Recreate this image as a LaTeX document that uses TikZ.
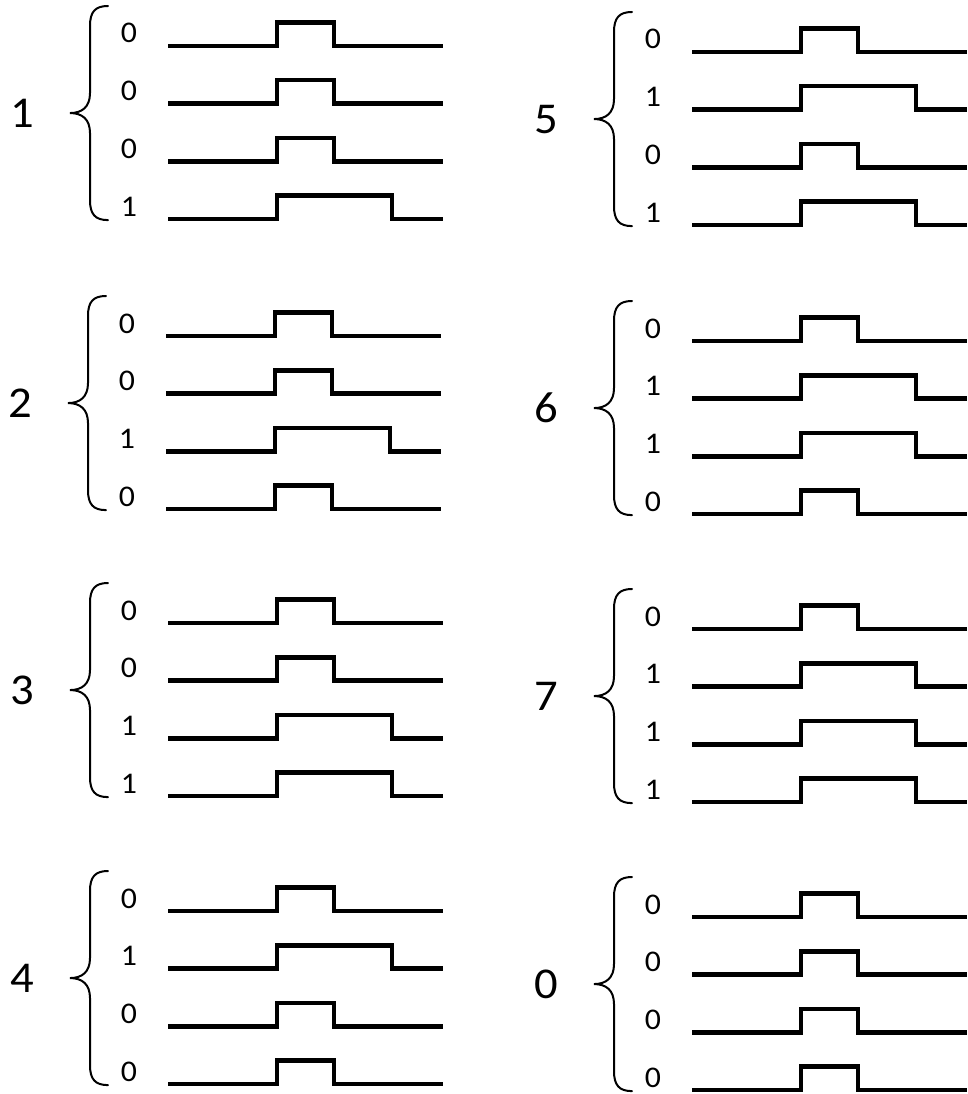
\documentclass[tikz,border=0pt]{standalone}
\usepackage{fontspec}
\setmainfont{Carlito}[FakeStretch=1.06]
\tikzset{
  wave/.style={line width=4.6pt, line join=miter},
  bracestyle/.style={line width=2pt, line cap=round},
  bitlab/.style={font=\fontsize{30}{30}\selectfont, anchor=base, inner sep=0pt},
  biglab/.style={font=\fontsize{44}{44}\selectfont, anchor=base, inner sep=0pt},
}
\newcommand\sigrow[3]{%
  \node[bitlab] (#1) at (129,#2-3) {#3};
  \pgfmathsetmacro\pw{ifthenelse(#3==1,115,57)}
  \draw[wave] (168,#2) -- (277,#2) -- (277,#2-23.5) -- ++(\pw,0) -- ++(0,23.5) -- (443,#2);
}
\newcommand\sgroup[8]{%
  \pgfmathsetmacro\gT{#3-40}
  \pgfmathsetmacro\gB{#3+3*57.7+1}
  \pgfmathsetmacro\gM{(\gT+\gB)/2}
  \pgfmathsetmacro\yA{#3}
  \pgfmathsetmacro\yB{#3+57.7}
  \pgfmathsetmacro\yC{#3+2*57.7}
  \pgfmathsetmacro\yD{#3+3*57.7}
  \begin{scope}[xshift=#2pt]
    \node[biglab] (#1) at (22,\gM+14) {#4};
    \draw[bracestyle] (108,\gT) .. controls (95,\gT) and (90,\gT+6) .. (90,\gT+20) -- (90,\gM-20)
      .. controls (90,\gM-6) and (82,\gM) .. (70,\gM) .. controls (82,\gM) and (90,\gM+6) .. (90,\gM+20)
      -- (90,\gB-20) .. controls (90,\gB-6) and (95,\gB) .. (108,\gB);
    \sigrow{#1r1}{\yA}{#5}
    \sigrow{#1r2}{\yB}{#6}
    \sigrow{#1r3}{\yC}{#7}
    \sigrow{#1r4}{\yD}{#8}
  \end{scope}
}
\begin{document}
\begin{tikzpicture}[x=1pt, y=-1pt]
  \useasboundingbox (0,0) rectangle (967,1094);
  \sgroup{gone}{0}{46}{1}{0}{0}{0}{1}
  \sgroup{gtwo}{-2}{336}{2}{0}{0}{1}{0}
  \sgroup{gthree}{0}{623}{3}{0}{0}{1}{1}
  \sgroup{gfour}{0}{911}{4}{0}{1}{0}{0}
  \sgroup{gfive}{524}{52}{5}{0}{1}{0}{1}
  \sgroup{gsix}{524}{341}{6}{0}{1}{1}{0}
  \sgroup{gseven}{524}{629}{7}{0}{1}{1}{1}
  \sgroup{gzero}{524}{917}{0}{0}{0}{0}{0}
\end{tikzpicture}
\end{document}
